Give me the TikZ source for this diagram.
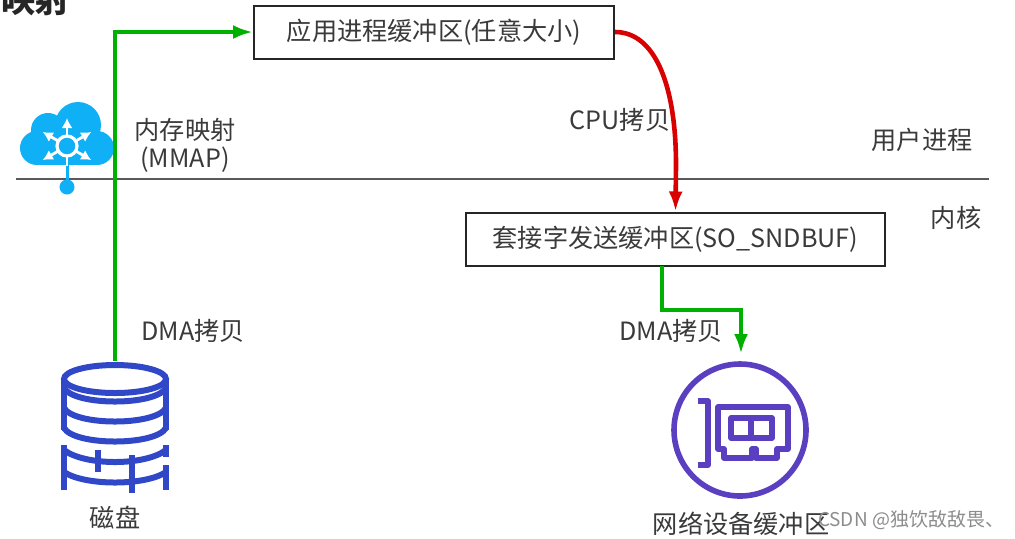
\documentclass[tikz,border=0pt]{standalone}
\usepackage{fontspec}
\setmainfont{Noto Sans CJK SC}
\usetikzlibrary{arrows.meta}
\definecolor{txtgray}{HTML}{3A3A3A}
\definecolor{linkgreen}{HTML}{00B000}
\definecolor{linkred}{HTML}{D80000}
\definecolor{cloudblue}{HTML}{0FB0F5}
\definecolor{diskblue}{HTML}{3048C8}
\definecolor{nicpurple}{HTML}{5A3FC0}

\begin{document}
\begin{tikzpicture}[x=0.5pt,y=-0.5pt]
\tikzstyle{every node}=[inner sep=0pt,text=txtgray,font=\fontsize{12.6}{14}\selectfont]
\tikzstyle{bufbox}=[rectangle,draw=black!85,line width=1pt,fill=white,minimum height=26.5pt]
\tikzstyle{link}=[line width=2.3pt,-{Latex[length=10pt,width=7pt]}]
\useasboundingbox (0,0) rectangle (1015,538);

\node[font=\fontsize{17}{17}\selectfont\bfseries,text=black!85](title) at (36,0) {映射};

% boundary line
\coordinate (lineL) at (16,179);
\coordinate (lineR) at (989,179);
\draw[line width=0.8pt,black!65] (lineL) -- (lineR);

% cloud icon
\fill[cloudblue] (78,125) circle [radius=23];
\fill[cloudblue] (48,130) circle [radius=17];
\fill[cloudblue] (37,148) circle [radius=17];
\fill[cloudblue] (97,148) circle [radius=17];
\fill[cloudblue] (40,130) rectangle (97,165);
\draw[cloudblue,line width=1.5pt] (67,160) -- (67,187);
\fill[cloudblue] (67,187) circle [radius=7.5];
\draw[white,line width=1.6pt] (67,146) circle [radius=10];
\foreach \ang in {30,150,210,270,330}
  \draw[white,line width=1.4pt,-{Latex[length=5pt,width=5.5pt]}] (67,146) ++(\ang:10) -- ++(\ang:18);
\draw[white,line width=1.4pt] (67,156) -- (67,166);

% disk icon
\begin{scope}[draw=diskblue,line width=3pt]
\draw (115,379) ellipse [x radius=51,y radius=14];
\draw (64,379) -- (64,430) (166,379) -- (166,430);
\draw (64,388) .. controls (75,406) and (155,406) .. (166,388);
\draw (64,408) .. controls (75,426) and (155,426) .. (166,408);
\draw (64,428) .. controls (75,446) and (155,446) .. (166,428);
\draw (64,450) .. controls (85,466) and (145,466) .. (166,450);
\draw (64,472) .. controls (85,486) and (145,486) .. (166,472);
\draw (64,445) -- (64,490) (166,445) -- (166,457) (166,465) -- (166,490);
\draw (98,450) -- (98,472) (132,455) -- (132,493);
\end{scope}
\coordinate (diskin) at (115,361);
\node(disk) at (115,518) {磁盘};

% nic icon
\begin{scope}[draw=nicpurple,line width=2.8pt,line join=round]
\draw (740,430) circle [radius=66];
\draw (698,401) -- (708,401) -- (708,465) -- (698,465);
\draw (718,407) -- (788,407) -- (788,449) -- (777,449) -- (777,458) -- (756,458) -- (756,449) -- (752,449) -- (752,458) -- (724,458) -- (724,449) -- (718,449) -- cycle;
\draw (731,418) rectangle (772,438);
\draw (751,418) -- (751,438);
\end{scope}
\coordinate (nicin) at (741,354);
\node(nic) at (741,524) {网络设备缓冲区};

\node[text=black!45,font=\fontsize{9.5}{11}\selectfont](mark) at (911,520) {CSDN @独饮敌敌畏、};

\node[bufbox,minimum width=180pt](app) at (434,32) {应用进程缓冲区(任意大小)};
\node[bufbox,minimum width=209.5pt](sock) at (675.5,239) {套接字发送缓冲区(SO\_SNDBUF)};

\node(mmap) at (185,130) {内存映射};
\node(mmapen) at (185,160) {(MMAP)};
\node(user) at (922,140) {用户进程};
\node(kernel) at (956,218) {内核};
\node(dmaL) at (193,331) {DMA拷贝};
\node(dmaR) at (671,331) {DMA拷贝};
\node(cpu) at (620,120) {CPU拷贝};

\coordinate (sockout) at (662,266);
\coordinate (bend) at (741,310);

\draw[link,linkgreen] (diskin) |- (app.west);
\draw[link,linkred] (app.east) .. controls (655,32) and (676,85) .. (676,165) -- (sock.north);
\draw[link,linkgreen] (sockout) |- (bend) -- (nicin);
\end{tikzpicture}
\end{document}
